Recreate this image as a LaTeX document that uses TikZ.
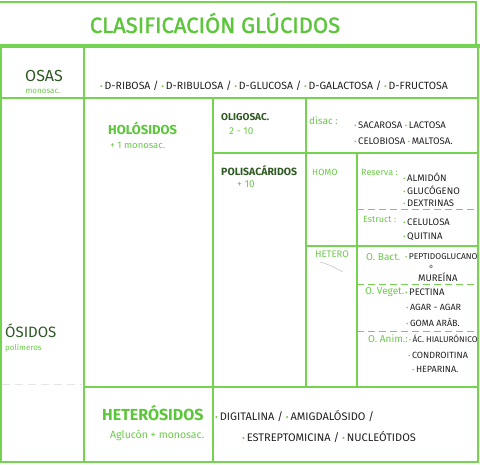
\documentclass[tikz,border=0pt]{standalone}
\usepackage{fontspec}
\setmainfont{Open Sans}
\newfontfamily\hand{Fira Sans}
\newfontfamily\handtitle[FakeBold=1.4]{Fira Sans}
\definecolor{lgreen}{HTML}{74D350}
\definecolor{tgreen}{HTML}{5CC63A}
\definecolor{dgreen}{HTML}{3E9A26}
\definecolor{sgreen}{HTML}{6CCB4A}
\definecolor{oink}{HTML}{2F5A24}
\definecolor{inkc}{HTML}{222222}
\tikzset{
  grid/.style={draw=lgreen, line width=2.2pt},
  dgrid/.style={draw=lgreen, line width=1pt, dash pattern=on 7pt off 4pt},
  head/.style={text=tgreen, font=\hand\bfseries\fontsize{13}{14}\selectfont, anchor=west, inner sep=0pt},
  sub/.style={text=sgreen, font=\hand\fontsize{9.5}{10}\selectfont, anchor=west, inner sep=0pt},
  item/.style={text=inkc, font=\hand\fontsize{9.5}{10}\selectfont, anchor=west, inner sep=0pt},
  lab/.style={text=sgreen, font=\hand\fontsize{9}{10}\selectfont, anchor=west, inner sep=0pt},
}
\newcommand{\gb}{{\color{sgreen}\scalebox{0.8}{•}}\,}
\begin{document}
\begin{tikzpicture}[x=1pt,y=-1pt]
\useasboundingbox (0,0) rectangle (480,464);
\fill[white] (0,0) rectangle (480,464);
% title box
\draw[grid] (0,2) -- (476,2) -- (476,45);
\draw[draw=lgreen, line width=4.5pt] (0,46) -- (480,46);
% frame
\draw[grid] (1,46) -- (1,462) -- (478,462) -- (478,46);
\draw[grid] (0,98) -- (478,98);
\draw[grid] (84,46) -- (84,462);
\draw[grid] (213,98) -- (213,462);
\draw[grid] (306,98) -- (306,387);
\draw[grid] (357,153) -- (357,387);
\draw[grid] (213,153) -- (478,153);
\draw[grid] (306,246) -- (478,246);
\draw[grid] (84,387) -- (478,387);
\draw[dgrid] (357,209) -- (478,209);
\draw[dgrid] (357,284) -- (478,284);
\draw[dgrid] (357,331) -- (478,331);
\draw[draw=gray!20, line width=0.8pt, dash pattern=on 8pt off 5pt] (2,384) -- (82,384);
\draw[draw=gray!50, line width=0.5pt] (320,262) .. controls (330,265) .. (343,272);

% title
\node[text=tgreen, font=\handtitle\fontsize{22}{24}\selectfont, inner sep=0pt] (title) at (215,23) {CLASIFICACIÓN GLÚCIDOS};

% OSAS
\node[text=oink, font=\hand\fontsize{16}{17}\selectfont, inner sep=0pt] (osas) at (44,76) {OSAS};
\node[text=sgreen, font=\hand\fontsize{8}{9}\selectfont, inner sep=0pt] (mono) at (43,91) {monosac.};
\node[item, font=\hand\fontsize{10.5}{11}\selectfont] (osasl) at (100,86) {\gb D-RIBOSA / \gb D-RIBULOSA / \gb D-GLUCOSA / \gb D-GALACTOSA / \gb D-FRUCTOSA};

% OSIDOS
\node[text=oink, font=\hand\fontsize{15}{16}\selectfont, anchor=west, inner sep=0pt] (osidos) at (5,331) {ÓSIDOS};
\node[sub, font=\hand\fontsize{8}{9}\selectfont] (polim) at (5,348) {polímeros};

% HOLOSIDOS
\node[head] (holo) at (108,128) {HOLÓSIDOS};
\node[sub] (holos) at (110,145) {+ 1 monosac.};

% OLIGOSAC
\node[item, text=oink, font=\hand\bfseries\fontsize{10}{11}\selectfont] (oligo) at (221,117) {OLIGOSAC.};
\node[sub, font=\hand\fontsize{10}{11}\selectfont] (oligon) at (229,131) {2 - 10};
\node[lab, font=\hand\fontsize{10}{11}\selectfont] (disac) at (309,121) {disac :};
\node[item] (d1) at (354,125) {\gb SACAROSA \gb LACTOSA};
\node[item] (d2) at (354,141) {\gb CELOBIOSA \gb MALTOSA.};

% POLISACARIDOS
\node[item, text=oink, font=\hand\bfseries\fontsize{10.5}{11}\selectfont] (poli) at (221,171) {POLISACÁRIDOS};
\node[sub, font=\hand\fontsize{10}{11}\selectfont] (polin) at (237,184) {+ 10};
\node[lab] (homo) at (312,172) {HOMO};
\node[lab] (reserva) at (361,172) {Reserva :};
\node[item] (r1) at (403,177) {\gb ALMIDÓN};
\node[item] (r2) at (403,190) {\gb GLUCÓGENO};
\node[item] (r3) at (403,203) {\gb DEXTRINAS};
\node[lab] (estruct) at (363,219) {Estruct :};
\node[item] (e1) at (403,222) {\gb CELULOSA};
\node[item] (e2) at (403,237) {\gb QUITINA};

\node[lab, font=\hand\fontsize{9.5}{10}\selectfont] (hetero) at (315,254) {HETERO};
\node[lab, font=\hand\fontsize{10}{11}\selectfont] (bact) at (366,257) {O. Bact.};
\node[item, font=\hand\fontsize{8.5}{9}\selectfont] (b1) at (405,257) {\gb PEPTIDOGLUCANO};
\node[item, font=\hand\fontsize{6}{6}\selectfont, anchor=center] (b2) at (431,267) {o};
\node[item] (b3) at (418,277) {MUREÍNA};
\node[lab, font=\hand\fontsize{10}{11}\selectfont] (veget) at (365,292) {O. Veget.};
\node[item] (v1) at (405,292) {\gb PECTINA};
\node[item, font=\hand\fontsize{9}{10}\selectfont] (v2) at (406,307) {\gb AGAR - AGAR};
\node[item, font=\hand\fontsize{9}{10}\selectfont] (v3) at (406,322) {\gb GOMA ARÁB.};
\node[lab, font=\hand\fontsize{10}{11}\selectfont] (anim) at (368,339) {O. Anim.:};
\node[item, font=\hand\fontsize{8.3}{9}\selectfont] (a1) at (409,339) {\gb ÁC. HIALURÓNICO};
\node[item, font=\hand\fontsize{9}{10}\selectfont] (a2) at (408,355) {\gb CONDROITINA};
\node[item, font=\hand\fontsize{9}{10}\selectfont] (a3) at (412,369) {\gb HEPARINA.};

% HETEROSIDOS
\node[head, font=\hand\bfseries\fontsize{16}{17}\selectfont] (hetsid) at (102,413) {HETERÓSIDOS};
\node[sub, font=\hand\fontsize{10.5}{11}\selectfont] (agluc) at (110,435) {Aglucón + monosac.};
\node[item, font=\hand\fontsize{11}{12}\selectfont] (h1) at (215,416) {\gb DIGITALINA / \gb AMIGDALÓSIDO /};
\node[item, font=\hand\fontsize{11}{12}\selectfont] (h2) at (242,437) {\gb ESTREPTOMICINA / \gb NUCLEÓTIDOS};
\end{tikzpicture}
\end{document}
